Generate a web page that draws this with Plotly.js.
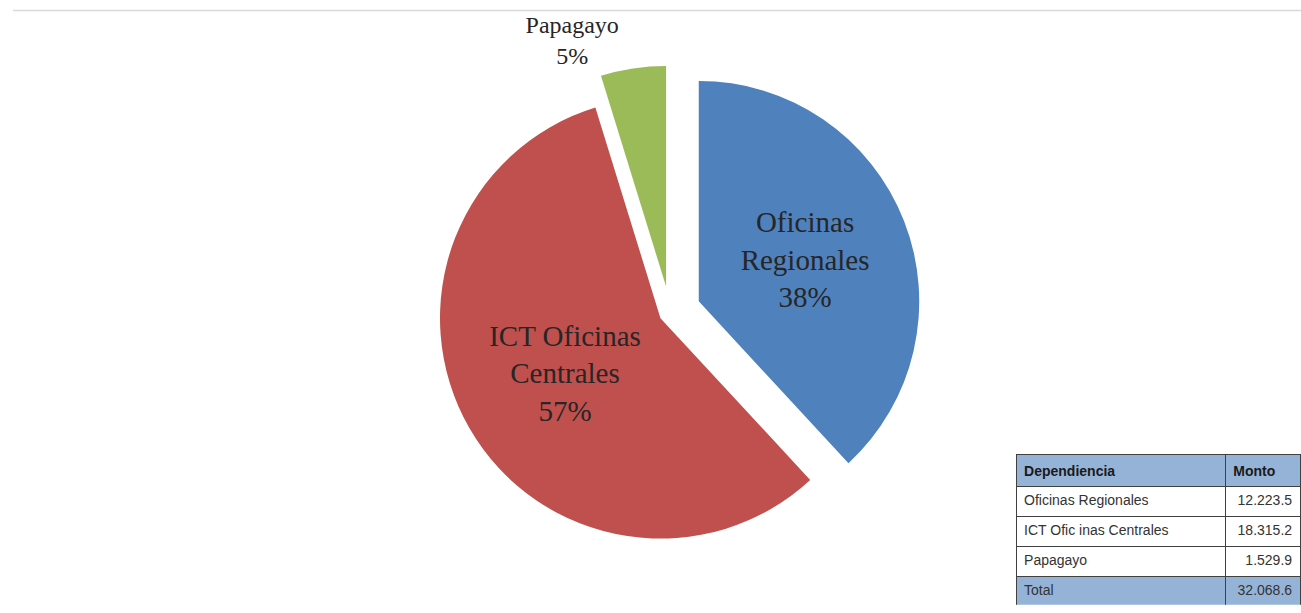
<!DOCTYPE html>
<html>
<head>
<meta charset="utf-8">
<script src="https://cdn.plot.ly/plotly-3.0.1.min.js"></script>
<style>html,body{margin:0;padding:0;background:#fff;}#chart{width:1301px;height:613px;}</style>
</head>
<body>
<div id="chart"></div>
<script>
// Data
const categories = ['Oficinas Regionales', 'ICT Oficinas Centrales', 'Papagayo'];
const sliceText = ['Oficinas<br>Regionales', 'ICT Oficinas<br>Centrales', 'Papagayo'];
const montos = [12223.5, 18315.2, 1529.9];
const tableHeader = ['Dependiencia', 'Monto'];
const tableNames = ['Oficinas Regionales', 'ICT Ofic inas Centrales', 'Papagayo', 'Total'];
const tableMontos = ['12.223.5', '18.315.2', '1.529.9', '32.068.6'];
const colors = ['#4F81BD', '#C0504D', '#9BBB59'];

const pie = {
  type: 'pie',
  labels: categories,
  values: montos,
  text: sliceText,
  texttemplate: '%{text}<br>%{percent:.0%}',
  textposition: ['inside', 'inside', 'outside'],
  insidetextorientation: 'horizontal',
  sort: false,
  direction: 'clockwise',
  rotation: 0,
  pull: [0.14, 0.05, 0.12],
  marker: {colors: colors, line: {color: '#ffffff', width: 0}},
  insidetextfont: {family: 'Liberation Serif, DejaVu Serif, serif', size: 29, color: '#262626'},
  outsidetextfont: {family: 'Liberation Serif, DejaVu Serif, serif', size: 24, color: '#262626'},
  domain: {x: [0.2, 0.83], y: [0.08, 0.9]},
  hoverinfo: 'label+value+percent',
  showlegend: false
};

const table = {
  type: 'table',
  domain: {x: [0.781, 1.0], y: [0.013, 0.258]},
  columnwidth: [210, 75],
  header: {
    values: tableHeader.map(h => '<b>' + h + '</b>'),
    align: ['left', 'left'],
    fill: {color: '#95B3D7'},
    line: {color: '#404040', width: 1},
    font: {family: 'Liberation Sans, Arial, sans-serif', size: 14, color: '#1a1a1a'},
    height: 30
  },
  cells: {
    values: [tableNames, tableMontos],
    align: ['left', 'right'],
    fill: {color: [['#ffffff', '#ffffff', '#ffffff', '#95B3D7']]},
    line: {color: '#404040', width: 1},
    font: {family: 'Liberation Sans, Arial, sans-serif', size: 14, color: '#333333'},
    height: 30
  }
};

const layout = {
  width: 1301,
  height: 613,
  margin: {l: 0, r: 0, t: 0, b: 0},
  paper_bgcolor: '#ffffff',
  showlegend: false,
  shapes: [
    {type: 'line', xref: 'paper', yref: 'paper', x0: 0.01, x1: 1, y0: 0.983, y1: 0.983,
     line: {color: '#d9d9d9', width: 1.5}}
  ]
};

Plotly.newPlot('chart', [pie, table], layout, {displayModeBar: false, staticPlot: true});
</script>
</body>
</html>
